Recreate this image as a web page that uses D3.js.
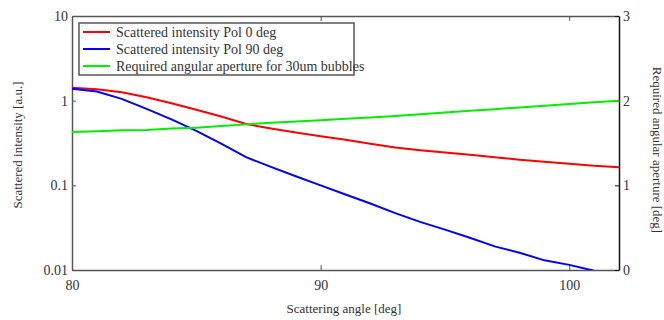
<!DOCTYPE html>
<html>
<head>
<meta charset="utf-8">
<script src="https://cdn.jsdelivr.net/npm/d3@7"></script>
<style>
  body { margin: 0; background: #fff; }
  text { font-family: "Liberation Serif", "DejaVu Serif", serif; fill: #333; }
</style>
</head>
<body>
<div id="chart"></div>
<script>
// Dados
const angles = [80, 81, 82, 83, 84, 85, 86, 87, 88, 89, 90, 91, 92, 93, 94, 95, 96, 97, 98, 99, 100, 101, 102];
const pol0 = [1.42, 1.36, 1.26, 1.10, 0.93, 0.78, 0.65, 0.53, 0.47, 0.42, 0.38, 0.345, 0.31, 0.28, 0.26, 0.245, 0.23, 0.215, 0.20, 0.19, 0.18, 0.17, 0.163];
const pol90 = [1.38, 1.28, 1.05, 0.80, 0.60, 0.44, 0.31, 0.215, 0.165, 0.128, 0.10, 0.078, 0.061, 0.047, 0.037, 0.030, 0.024, 0.019, 0.016, 0.013, 0.0115, 0.0098, 0.0085];
const aperture = [1.63, 1.64, 1.65, 1.655, 1.67, 1.68, 1.70, 1.72, 1.74, 1.755, 1.77, 1.785, 1.80, 1.82, 1.84, 1.86, 1.88, 1.90, 1.92, 1.94, 1.96, 1.98, 2.00];

const xTicks = [80, 90, 100];
const yLeftTicks = [0.01, 0.1, 1, 10];
const yLeftLabels = ['0.01', '0.1', '1', '10'];
const yRightTicks = [0, 1, 2, 3];

const legendItems = [
	{ label: 'Scattered intensity Pol 0 deg', color: '#ff0000' },
	{ label: 'Scattered intensity Pol 90 deg', color: '#0000ff' },
	{ label: 'Required angular aperture for 30um bubbles', color: '#00ee00' }
];

const width = 664, height = 320;
const margin = { top: 16, right: 45, bottom: 50, left: 72 };
const w = width - margin.left - margin.right;
const h = height - margin.top - margin.bottom;

const svg = d3.select('#chart').append('svg')
	.attr('width', width)
	.attr('height', height);

const g = svg.append('g').attr('transform', `translate(${margin.left},${margin.top})`);

const x = d3.scaleLinear().domain([80, 102]).range([0, w]);
const yL = d3.scaleLog().domain([0.01, 10]).range([h, 0]);
const yR = d3.scaleLinear().domain([0, 3]).range([h, 0]);

g.append('clipPath').attr('id', 'clip')
	.append('rect').attr('width', w).attr('height', h);

// Eixos
const axisColor = '#555';
const xAxis = g.append('g').attr('transform', `translate(0,${h})`)
	.call(d3.axisBottom(x).tickValues(xTicks).tickSizeInner(-5).tickSizeOuter(0).tickPadding(10));
const xTop = g.append('g')
	.call(d3.axisTop(x).tickValues(xTicks).tickSizeInner(-5).tickSizeOuter(0).tickFormat(''));
const yAxisL = g.append('g')
	.call(d3.axisLeft(yL).tickValues(yLeftTicks).tickFormat((d, i) => yLeftLabels[i]).tickSizeInner(-4).tickSizeOuter(0).tickPadding(4));
const yAxisR = g.append('g').attr('transform', `translate(${w},0)`)
	.call(d3.axisRight(yR).tickValues(yRightTicks).tickFormat(d3.format('d')).tickSizeInner(-4).tickSizeOuter(0).tickPadding(4));

[xAxis, xTop, yAxisL].forEach(a => {
	a.select('.domain').attr('stroke', axisColor).attr('stroke-width', 1.5);
	a.selectAll('.tick line').attr('stroke', axisColor);
});
yAxisR.select('.domain').attr('stroke', '#111').attr('stroke-width', 1.5);
yAxisR.selectAll('.tick line').attr('stroke', '#111');
svg.selectAll('.tick text').attr('font-size', 14).attr('fill', '#333')
	.style('font-family', '"Liberation Serif", serif');

// Linhas
const lineLog = vals => d3.line().x((d, i) => x(angles[i])).y(d => yL(d))(vals);
const lineLin = d3.line().x((d, i) => x(angles[i])).y(d => yR(d));

const lines = g.append('g').attr('clip-path', 'url(#clip)');
lines.append('path').attr('d', lineLog(pol0))
	.attr('fill', 'none').attr('stroke', legendItems[0].color).attr('stroke-width', 2);
lines.append('path').attr('d', lineLog(pol90))
	.attr('fill', 'none').attr('stroke', legendItems[1].color).attr('stroke-width', 2);
lines.append('path').attr('d', lineLin(aperture))
	.attr('fill', 'none').attr('stroke', legendItems[2].color).attr('stroke-width', 2);

// Legenda
const legend = g.append('g').attr('transform', 'translate(7,7)');
legend.append('rect')
	.attr('width', 275).attr('height', 52)
	.attr('fill', '#fff').attr('stroke', axisColor).attr('stroke-width', 1.5);
legendItems.forEach((it, i) => {
	const yy = 9 + i * 17;
	legend.append('line')
		.attr('x1', 4).attr('x2', 31).attr('y1', yy).attr('y2', yy)
		.attr('stroke', it.color).attr('stroke-width', 2);
	legend.append('text')
		.attr('x', 37).attr('y', yy + 4.5)
		.attr('font-size', 14)
		.text(it.label);
});

// Títulos dos eixos
svg.append('text')
	.attr('x', 344).attr('y', 313)
	.attr('text-anchor', 'middle').attr('font-size', 13)
	.text('Scattering angle [deg]');
svg.append('text')
	.attr('transform', 'translate(22,145) rotate(-90)')
	.attr('text-anchor', 'middle').attr('font-size', 13)
	.text('Scattered intensity [a.u.]');
svg.append('text')
	.attr('transform', 'translate(653,150) rotate(90)')
	.attr('text-anchor', 'middle').attr('font-size', 13)
	.text('Required angular aperture [deg]');
</script>
</body>
</html>
